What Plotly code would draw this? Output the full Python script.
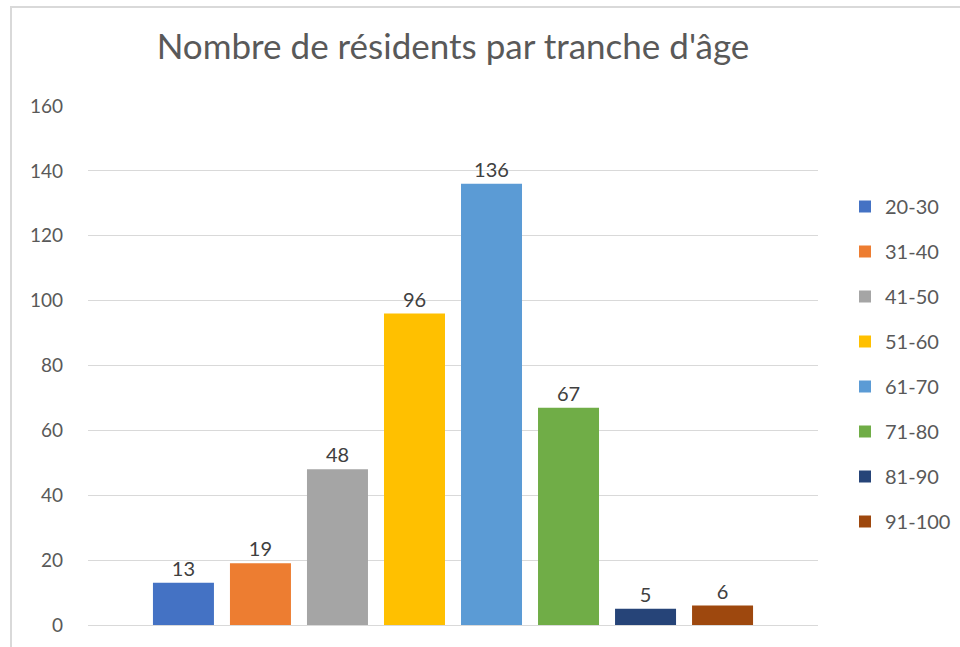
import plotly.graph_objects as go

categories = ["20-30", "31-40", "41-50", "51-60", "61-70", "71-80", "81-90", "91-100"]
values = [13, 19, 48, 96, 136, 67, 5, 6]
colors = ["#4472C4", "#ED7D31", "#A5A5A5", "#FFC000", "#5B9BD5", "#70AD47", "#264478", "#9E480E"]
y_ticks = [0, 20, 40, 60, 80, 100, 120, 140, 160]
title = "Nombre de résidents par tranche d'âge"

W, H = 960, 647
L, R, T, B = 88, 142, 106, 22
pw, ph = W - L - R, H - T - B

FONT = "Lato"

fig = go.Figure()
for i, (cat, val, col) in enumerate(zip(categories, values, colors)):
    fig.add_trace(go.Bar(
        x=[0], y=[val], name=cat, marker=dict(color=col, line=dict(width=0)),
        text=[str(val)], textposition="outside", cliponaxis=False,
        textfont=dict(family=FONT, size=20, color="#404040"),
        legendgroup=cat,
    ))

fig.update_layout(
    width=W, height=H,
    margin=dict(l=L, r=R, t=T, b=B, autoexpand=False),
    paper_bgcolor="white", plot_bgcolor="white",
    barmode="group", bargap=0.156, bargroupgap=0.208,
    title=dict(text=title, x=0.5, xref="paper", xanchor="center",
               y=1 - 47 / H, yref="container", yanchor="middle",
               font=dict(family=FONT, size=35, color="#595959")),
    xaxis=dict(range=[-0.5, 0.5], showticklabels=False, showgrid=False,
               zeroline=False, showline=False, ticks=""),
    yaxis=dict(range=[0, 160], tickvals=y_ticks, showgrid=True,
               gridcolor="#D9D9D9", gridwidth=1, zeroline=True,
               zerolinecolor="#D9D9D9", zerolinewidth=1,
               showline=False, ticks="", ticklabelstandoff=24,
               tickfont=dict(family=FONT, size=19, color="#595959")),
    legend=dict(x=(845 - L) / pw, xanchor="left", y=(625 - 187) / ph, yanchor="top",
                traceorder="grouped", tracegroupgap=16,
                font=dict(family=FONT, size=20, color="#595959"),
                itemwidth=30, bgcolor="rgba(0,0,0,0)"),
    showlegend=True,
)

fig.add_shape(type="rect", xref="paper", yref="paper",
              x0=(11 - L) / pw, x1=(W + 5 - L) / pw,
              y0=(625 - (H + 10)) / ph, y1=(625 - 7) / ph,
              line=dict(color="#D9D9D9", width=2), fillcolor="rgba(0,0,0,0)", layer="below")

fig.write_html("out.html", config={"displayModeBar": False},
               post_script="document.body.style.margin='0px';document.body.style.overflow='hidden';")
